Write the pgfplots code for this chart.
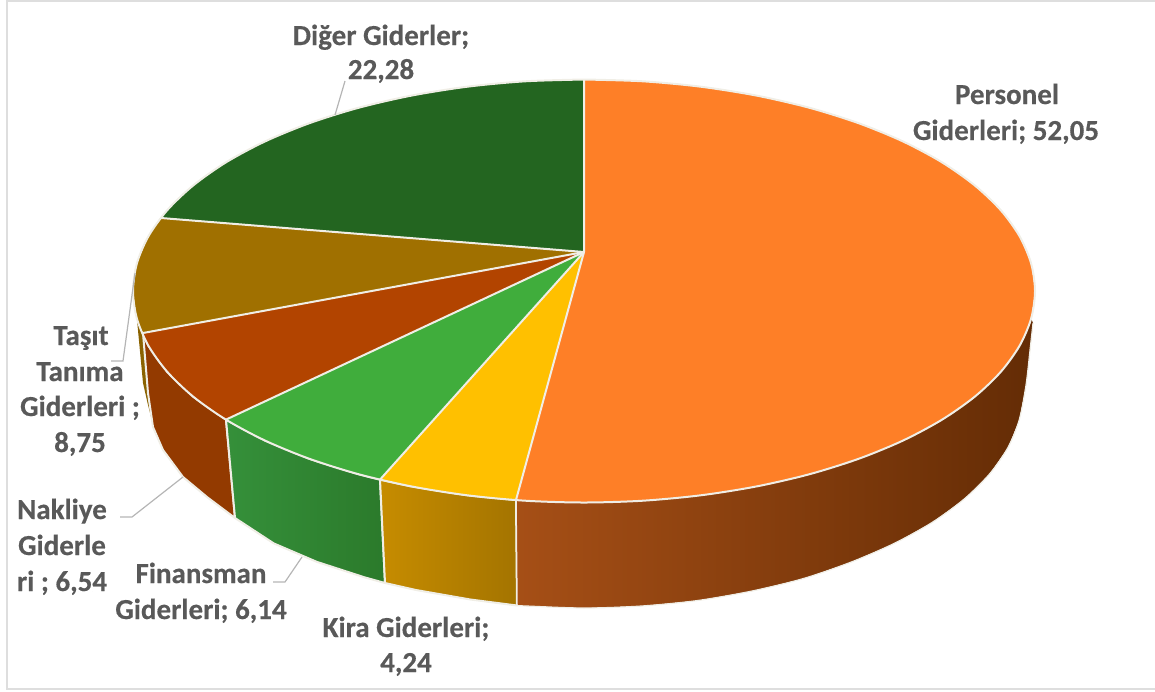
\documentclass[border=0pt]{standalone}
\usepackage{fontspec}
\setmainfont[BoldFeatures={FakeBold=0.4}]{Carlito}
\usepackage{pgfplots}
\pgfplotsset{compat=1.18}

\definecolor{cOrange}{HTML}{FE7F27}
\definecolor{cYellow}{HTML}{FFC000}
\definecolor{cGreen}{HTML}{40AD3C}
\definecolor{cRed}{HTML}{B24400}
\definecolor{cGold}{HTML}{A07000}
\definecolor{cDark}{HTML}{236520}
\definecolor{wOrangeA}{HTML}{A64F16}
\definecolor{wOrangeB}{HTML}{642C05}
\definecolor{wYellowA}{HTML}{C68C00}
\definecolor{wYellowB}{HTML}{A47400}
\definecolor{wGreenA}{HTML}{35903A}
\definecolor{wGreenB}{HTML}{2B7A2B}
\definecolor{wRed}{HTML}{933A00}
\definecolor{wGold}{HTML}{8A6200}
\definecolor{edge}{HTML}{F0EEE6}
\definecolor{leader}{HTML}{B5B5B5}
\definecolor{lbl}{HTML}{595959}

\tikzset{
  slice/.style={draw=edge, line width=2pt, line join=round},
  lab/.style={anchor=base, font=\fontsize{29}{33}\selectfont\bfseries, text=lbl, inner sep=0pt}
}

\begin{document}
\begin{tikzpicture}
\useasboundingbox (0,0) rectangle (1155pt,691pt);
\begin{axis}[
  at={(0,0)}, anchor=south west,
  scale only axis,
  width=1155pt, height=691pt,
  xmin=0, xmax=1155, ymin=0, ymax=691,
  y dir=reverse,
  hide axis,
  clip=false
]
% chart frame, open on the right
\addplot[draw=black!13, line width=2pt] coordinates {(1155,1) (7,1) (7,688.5) (1155,688.5)};

% side walls
\addplot[draw=none, fill=wGold] coordinates {(137,320) (143,333) (153,425) (148,405) (143,383)} --cycle;
\addplot[slice, fill=wRed] coordinates {
  (226,419.6) (193.4,396.8) (167.3,371.9) (148.4,345.7) (143,333) (148,393) (153,427)
  (163,450) (183,477) (207,497) (235,518)} --cycle;
\addplot[slice, left color=wGreenA, right color=wGreenB] coordinates {
  (380,479.6) (358.5,474.2) (309.4,458.8) (265.1,440.6) (226,419.6)
  (235,518) (273.6,543.3) (316.7,561.8) (364.5,577.3) (385,583)} --cycle;
\addplot[slice, left color=wYellowA, right color=wYellowB] coordinates {
  (516,500) (467.3,495.3) (411.4,486.4) (380,479.6)
  (385,583) (416,590) (470.4,599.5) (517,605.5)} --cycle;
\addplot[draw=none, left color=wOrangeA, middle color=wOrangeB, right color=wOrangeB] coordinates {
  (1033,323) (1031.1,318.6) (1019.6,345.7) (1000.7,371.9) (974.6,396.8) (941.8,419.8)
  (902.9,440.6) (858.6,458.8) (809.5,474.2) (756.6,486.4) (700.7,495.3) (642.9,500.7)
  (584,502.5) (525.1,500.7) (516,500)
  (517,605.5) (526.7,606) (584,608) (641.3,606) (697.6,600.5) (752,591) (803.5,578.5)
  (851.3,562) (894.4,543.3) (932.3,522.3) (964.2,499) (989.6,473.9) (1008,447.4)
  (1019.2,419.9) (1026,385) (1030,350)} --cycle;
\addplot[edge, line width=1.5pt] coordinates {(516,500) (517,605.5)};
\addplot[edge, line width=1.2pt, smooth] coordinates {
  (517,605.5) (526.7,606) (584,608) (641.3,606) (697.6,600.5) (752,591) (803.5,578.5)
  (851.3,562) (894.4,543.3) (932.3,522.3) (964.2,499) (989.6,473.9) (1008,447.4)
  (1019.2,419.9) (1026,385) (1030,350) (1033,323)};

% top face, filled without outline
\addplot[draw=none, fill=cOrange] coordinates {
  (584,252) (584,79.5) (642.9,81.3) (700.7,86.7) (756.6,95.6) (809.5,107.8) (858.6,123.2)
  (902.9,141.4) (941.8,162.2) (974.6,185.3) (1000.7,210.1) (1019.6,236.3) (1031.1,263.4)
  (1035,291) (1031.1,318.6) (1019.6,345.7) (1000.7,371.9) (974.6,396.8) (941.8,419.8)
  (902.9,440.6) (858.6,458.8) (809.5,474.2) (756.6,486.4) (700.7,495.3) (642.9,500.7)
  (584,502.5) (525.1,500.7) (516,500)} --cycle;
\addplot[draw=none, fill=cYellow] coordinates {
  (584,252) (516,500) (467.3,495.3) (411.4,486.4) (380,479.6)} --cycle;
\addplot[draw=none, fill=cGreen] coordinates {
  (584,252) (380,479.6) (358.5,474.2) (309.4,458.8) (265.1,440.6) (226,419.6)} --cycle;
\addplot[draw=none, fill=cRed] coordinates {
  (584,252) (226,419.6) (193.4,396.8) (167.3,371.9) (148.4,345.7) (143,333)} --cycle;
\addplot[draw=none, fill=cGold] coordinates {
  (584,252) (143,333) (136.9,318.6) (133,291) (136.9,263.4) (148.4,236.3) (161,218)} --cycle;
\addplot[draw=none, fill=cDark] coordinates {
  (584,252) (161,218) (167.3,210.1) (193.4,185.3) (226.2,162.2) (265.1,141.4) (309.4,123.2)
  (358.5,107.8) (411.4,95.6) (467.3,86.7) (525.1,81.3) (584,79.5)} --cycle;

% slice edges
\addplot[edge, line width=2pt, line join=round] coordinates {(584,79.5) (584,252) (516,500)};
\addplot[edge, line width=2pt] coordinates {(584,252) (380,479.6)};
\addplot[edge, line width=2pt] coordinates {(584,252) (226,419.6)};
\addplot[edge, line width=2pt] coordinates {(584,252) (143,333)};
\addplot[edge, line width=2pt] coordinates {(584,252) (161,218)};
\addplot[edge, line width=2pt, smooth] coordinates {
  (584,79.5) (642.9,81.3) (700.7,86.7) (756.6,95.6) (809.5,107.8) (858.6,123.2)
  (902.9,141.4) (941.8,162.2) (974.6,185.3) (1000.7,210.1) (1019.6,236.3) (1031.1,263.4)
  (1035,291) (1031.1,318.6) (1019.6,345.7) (1000.7,371.9) (974.6,396.8) (941.8,419.8)
  (902.9,440.6) (858.6,458.8) (809.5,474.2) (756.6,486.4) (700.7,495.3) (642.9,500.7)
  (584,502.5) (525.1,500.7) (467.3,495.3) (411.4,486.4) (358.5,474.2) (309.4,458.8)
  (265.1,440.6) (226.2,419.8) (193.4,396.8) (167.3,371.9) (148.4,345.7) (136.9,318.6)
  (133,291) (136.9,263.4) (148.4,236.3) (167.3,210.1) (193.4,185.3) (226.2,162.2)
  (265.1,141.4) (309.4,123.2) (358.5,107.8) (411.4,95.6) (467.3,86.7) (525.1,81.3) (584,79.5)};

% leader lines
\addplot[leader, line width=1.2pt] coordinates {(345,81) (335,115)};
\addplot[leader, line width=1.2pt] coordinates {(111,361) (123,361) (135,273)};
\addplot[leader, line width=1.2pt] coordinates {(120,517) (132,517) (183,477)};
\addplot[leader, line width=1.2pt] coordinates {(273,582) (285,582) (302,557)};

% labels
\node[lab] at (axis cs:1007,104) {Personel};
\node[lab] at (axis cs:1006,140) {Giderleri; 52,05};
\node[lab] at (axis cs:381,45) {Diğer Giderler;};
\node[lab] at (axis cs:381,79) {22,28};
\node[lab] at (axis cs:81,345) {Taşıt};
\node[lab] at (axis cs:80,381) {Tanıma};
\node[lab] at (axis cs:80,416) {Giderleri ;};
\node[lab] at (axis cs:80,452) {8,75};
\node[lab] at (axis cs:62,519) {Nakliye};
\node[lab] at (axis cs:62,555) {Giderle};
\node[lab] at (axis cs:62,591) {ri ; 6,54};
\node[lab] at (axis cs:201,583) {Finansman};
\node[lab] at (axis cs:201,619) {Giderleri; 6,14};
\node[lab] at (axis cs:406,637) {Kira Giderleri;};
\node[lab] at (axis cs:406,672) {4,24};
\end{axis}
\end{tikzpicture}
\end{document}
